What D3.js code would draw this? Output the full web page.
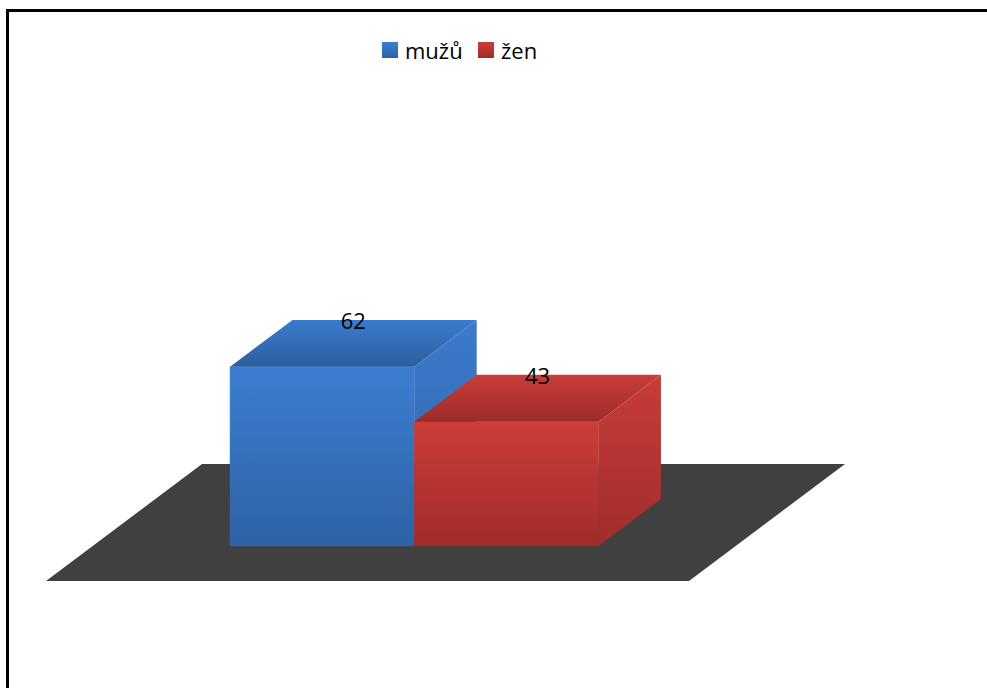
<!DOCTYPE html>
<html><head><meta charset="utf-8">
<script src="https://cdn.jsdelivr.net/npm/d3@7"></script>
<style>html,body{margin:0;padding:0;background:#fff;}svg{display:block;}</style>
</head><body>
<svg id="chart" width="987" height="688"></svg>
<script>
const categories = ["mužů", "žen"];
const values = [62, 43];
const seriesColors = ["#3a7bcd", "#cb3b38"];

const svg = d3.select("#chart");
svg.append("rect").attr("x", 7.5).attr("y", 10.5).attr("width", 1000).attr("height", 700)
  .attr("fill", "#fff").attr("stroke", "#000").attr("stroke-width", 3);

// pseudo-3D projection
const floorY = 581, depthDX = 156, depthDY = 117;
const x = d3.scaleBand().domain(categories).range([46, 689]).paddingInner(0).paddingOuter(0.745);
const v = d3.scaleLinear().domain([0, 70]).range([0, 70 * 2.89]);
const P = (X, val, z) => [X + z * depthDX, floorY - v(val) - z * depthDY];
const z0 = 0.3, z1 = 0.7;

// floor
svg.append("path").attr("fill", "#404040")
  .attr("d", d3.line()([P(46, 0, 0), P(689, 0, 0), P(689, 0, 1), P(46, 0, 1)]) + "Z");

const defs = svg.append("defs");
function grad(id, c1, c2) {
  const g = defs.append("linearGradient").attr("id", id).attr("x1", 0).attr("y1", 0).attr("x2", 0).attr("y2", 1);
  g.append("stop").attr("offset", "0%").attr("stop-color", c1);
  g.append("stop").attr("offset", "100%").attr("stop-color", c2);
}
const shades = [
  { front: ["#3b7ed1", "#2f62a5"], top: ["#3a7bcd", "#2d5f9e"], side: ["#3b7bcc", "#2f63a6"] },
  { front: ["#cd3c39", "#a02c2a"], top: ["#ca3d3a", "#9b2c2a"], side: ["#c83c39", "#a02d2b"] }
];
shades.forEach((s, i) => {
  grad("f" + i, s.front[0], s.front[1]);
  grad("t" + i, s.top[0], s.top[1]);
  grad("s" + i, s.side[0], s.side[1]);
});

const line = d3.line();
categories.forEach((c, i) => {
  const xl = x(c), xr = x(c) + x.bandwidth(), val = values[i];
  const g = svg.append("g");
  g.append("path").attr("fill", `url(#f${i})`).attr("stroke", `url(#f${i})`).attr("stroke-width", 0.5)
    .attr("d", line([P(xl, 0, z0), P(xr, 0, z0), P(xr, val, z0), P(xl, val, z0)]) + "Z");
  g.append("path").attr("fill", `url(#t${i})`)
    .attr("d", line([P(xl, val, z0), P(xr, val, z0), P(xr, val, z1), P(xl, val, z1)]) + "Z");
  g.append("path").attr("fill", `url(#s${i})`)
    .attr("d", line([P(xr, 0, z0), P(xr, 0, z1), P(xr, val, z1), P(xr, val, z0)]) + "Z");
  const lp = P((xl + xr) / 2, val, (z0 + z1) / 2);
  g.append("text").attr("x", lp[0]).attr("y", P(xl, val, z1)[1] + 9)
    .attr("text-anchor", "middle").attr("font-family", "'Open Sans', sans-serif")
    .attr("font-size", 22).attr("fill", "#000").text(val);
});

// legend
const legend = svg.append("g").attr("font-family", "'Open Sans', sans-serif").attr("font-size", 22);
const legendX = [382, 478];
categories.forEach((c, i) => {
  legend.append("rect").attr("x", legendX[i]).attr("y", 42).attr("width", 16).attr("height", 16)
    .attr("fill", `url(#f${i})`);
  legend.append("text").attr("x", legendX[i] + 23).attr("y", 59).attr("fill", "#000").text(c);
});
</script>
</body></html>
